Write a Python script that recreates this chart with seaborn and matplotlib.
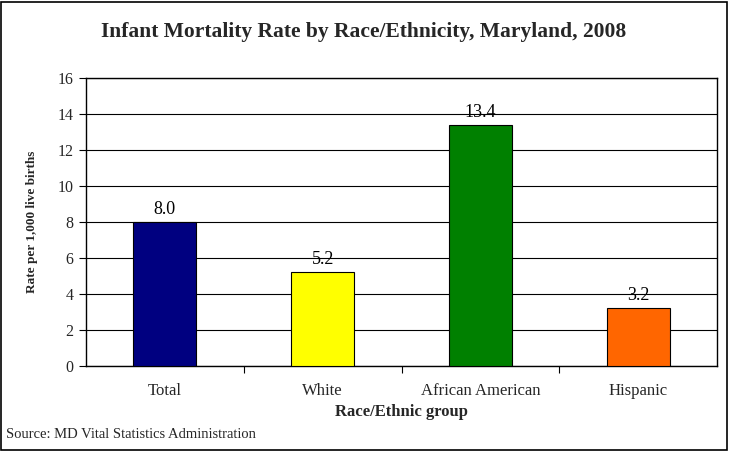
import matplotlib
matplotlib.use("Agg")
import matplotlib.pyplot as plt
import seaborn as sns
import pandas as pd
from matplotlib.patches import Rectangle

categories = ["Total", "White", "African American", "Hispanic"]
values = [8.0, 5.2, 13.4, 3.2]
colors = ["#000080", "#FFFF00", "#008000", "#FF6600"]
yticks = [0, 2, 4, 6, 8, 10, 12, 14, 16]

sns.set_theme(style="white")
plt.rcParams["font.family"] = ["Liberation Serif", "DejaVu Serif"]

df = pd.DataFrame({"group": categories, "rate": values})

fig = plt.figure(figsize=(7.29, 4.53), dpi=100)
ax = fig.add_axes([86/729, 1-366/453, (717-86)/729, (366-78)/453])

sns.barplot(data=df, x="group", y="rate", hue="group", palette=colors, saturation=1,
            width=0.4, edgecolor="black", linewidth=0.8, legend=False, ax=ax, zorder=3)

ax.set_ylim(0, 16)
ax.set_xlim(-0.5, 3.5)
ax.set_yticks(yticks)
ax.set_yticklabels([str(t) for t in yticks], fontsize=11.5)
ax.yaxis.grid(True, color="black", linewidth=0.8, zorder=0)
ax.set_axisbelow(True)
ax.tick_params(axis="y", direction="out", length=5, width=0.8, color="black", left=True, pad=4)
ax.tick_params(axis="x", which="major", length=0, pad=12)
ax.set_xticks([0.5, 1.5, 2.5], minor=True)
ax.tick_params(axis="x", which="minor", direction="out", length=5, width=0.8, color="black", bottom=True)
for lbl in ax.get_xticklabels():
    lbl.set_fontsize(12)

for s in ax.spines.values():
    s.set_visible(True)
    s.set_color("black")
    s.set_linewidth(1.0)

for i, v in enumerate(values):
    ax.annotate(f"{v:.1f}", (i, v), xytext=(0, 3), textcoords="offset points",
                ha="center", va="bottom", fontsize=13, color="black")

ax.set_xlabel("Race/Ethnic group", fontsize=12, fontweight="bold", labelpad=4)
ax.set_ylabel("Rate per 1,000 live births", fontsize=9.5, fontweight="bold", labelpad=14)

fig.text(364/729, 1-32/453, "Infant Mortality Rate by Race/Ethnicity, Maryland, 2008",
         ha="center", va="center", fontsize=15.5, fontweight="bold")
fig.text(6/729, 1-435/453, "Source: MD Vital Statistics Administration",
         ha="left", va="center", fontsize=10.5)

fig.patches.append(Rectangle((1/729, 3/453), 726/729, 448/453, transform=fig.transFigure,
                             fill=False, edgecolor="black", linewidth=1.2))

fig.savefig("out.png", dpi=100)
